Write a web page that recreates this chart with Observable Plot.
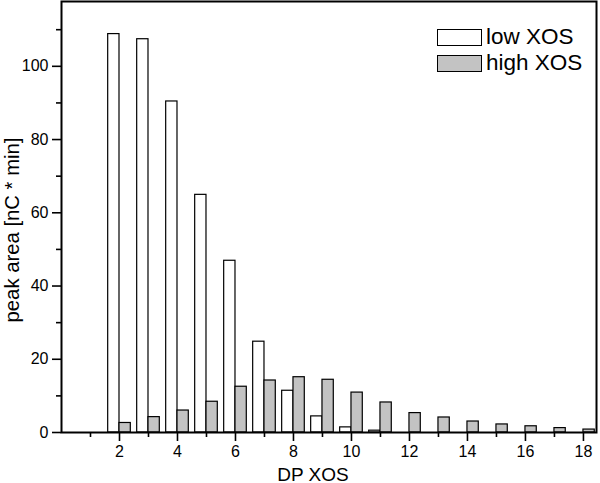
<!DOCTYPE html>
<html>
<head>
<meta charset="utf-8">
<script src="https://cdn.jsdelivr.net/npm/d3@7"></script>
<script src="https://cdn.jsdelivr.net/npm/@observablehq/plot@0.6"></script>
<style>
  html, body { margin: 0; padding: 0; background: #fff; }
  #wrap { position: relative; width: 600px; height: 483px; }
  #legend { position: absolute; left: 437px; top: 24px; font-family: "Liberation Sans", Arial, sans-serif; font-size: 22.5px; line-height: 26px; color: #000; }
  #legend .row { display: flex; align-items: center; height: 26px; }
  #legend .sw { width: 45px; height: 17px; border: 1.3px solid #000; box-sizing: border-box; margin-right: 4px; flex: none; }
</style>
</head>
<body>
<div id="wrap">
  <div id="chart"></div>
  <div id="legend"></div>
</div>
<script>
const dp = [2, 3, 4, 5, 6, 7, 8, 9, 10, 11, 12, 13, 14, 15, 16, 17, 18];
const lowXOS = [108.8, 107.4, 90.4, 64.9, 46.9, 24.8, 11.4, 4.4, 1.4, 0.5, 0, 0, 0, 0, 0, 0, 0];
const highXOS = [2.6, 4.2, 6.0, 8.4, 12.5, 14.2, 15.1, 14.4, 10.9, 8.2, 5.3, 4.1, 3.0, 2.2, 1.7, 1.2, 0.8];
const seriesNames = ["low XOS", "high XOS"];
const seriesFills = ["#ffffff", "#c3c3c3"];
const xMajorTicks = [2, 4, 6, 8, 10, 12, 14, 16, 18];
const xMinorTicks = [1, 3, 5, 7, 9, 11, 13, 15, 17];
const yMajorTicks = [0, 20, 40, 60, 80, 100];
const yMinorTicks = [10, 30, 50, 70, 90, 110];
const xTitle = "DP XOS";
const yTitle = "peak area [nC * min]";

const barW = 0.39;
const data = dp.map((d, i) => ({dp: d, low: lowXOS[i], high: highXOS[i]}));
const font = "'Liberation Sans', Arial, sans-serif";

const chart = Plot.plot({
  width: 600,
  height: 483,
  marginLeft: 61,
  marginRight: 4,
  marginTop: 1,
  marginBottom: 51,
  style: {fontFamily: font, fontSize: "16px", color: "#000", background: "#fff"},
  x: {type: "linear", domain: [0, 18.45]},
  y: {type: "linear", domain: [0, 117.7]},
  marks: [
    Plot.rectY(data.filter(d => d.low > 0), {x1: d => d.dp - barW, x2: d => d.dp, y1: 0, y2: "low", fill: seriesFills[0], stroke: "#000", strokeWidth: 1.2}),
    Plot.rectY(data, {x1: d => d.dp, x2: d => d.dp + barW, y1: 0, y2: "high", fill: seriesFills[1], stroke: "#000", strokeWidth: 1.2}),
    Plot.axisX({ticks: xMajorTicks, tickSize: 9, tickPadding: 4, tickFormat: d => String(d), strokeWidth: 1.6, fontSize: 16, label: null}),
    Plot.axisX({ticks: xMinorTicks, tickSize: 5, tickFormat: () => "", strokeWidth: 1.6, label: null}),
    Plot.axisY({ticks: yMajorTicks, tickSize: 9, tickPadding: 4, tickFormat: d => String(d), strokeWidth: 1.6, fontSize: 16, label: null}),
    Plot.axisY({ticks: yMinorTicks, tickSize: 5, tickFormat: () => "", strokeWidth: 1.6, label: null}),
    Plot.frame({stroke: "#000", strokeWidth: 2}),
    Plot.text([xTitle], {frameAnchor: "bottom", dx: -16, dy: 48, text: d => d, fontSize: 19, fill: "#000"}),
    Plot.text([yTitle], {frameAnchor: "left", textAnchor: "middle", lineAnchor: "middle", dx: -49, dy: 13, rotate: -90, text: d => d, fontSize: 20.3, fill: "#000"})
  ]
});
document.getElementById("chart").appendChild(chart);

const legend = document.getElementById("legend");
seriesNames.forEach((name, i) => {
  const row = document.createElement("div");
  row.className = "row";
  const sw = document.createElement("div");
  sw.className = "sw";
  sw.style.background = seriesFills[i];
  const label = document.createElement("span");
  label.textContent = name;
  row.appendChild(sw);
  row.appendChild(label);
  legend.appendChild(row);
});
</script>
</body>
</html>
